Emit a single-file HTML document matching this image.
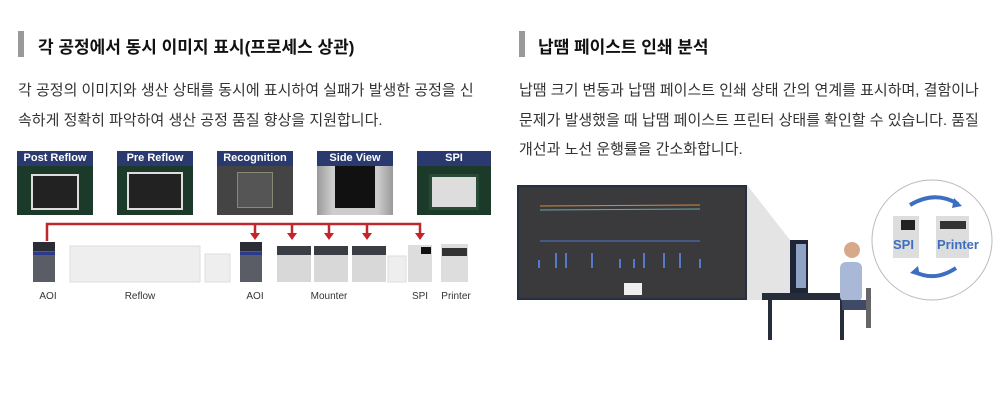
<!DOCTYPE html>
<html><head><meta charset="utf-8"><style>
body{margin:0;width:1000px;height:414px;background:#fff;position:relative;overflow:hidden;font-family:"Liberation Sans","Noto Sans CJK KR",sans-serif;color:#333}
.a{position:absolute}
.bar{width:6px;height:26px;background:#999;top:31px}
h2{position:absolute;margin:0;font-size:17px;font-weight:bold;color:#111;top:33px;white-space:nowrap}
p{position:absolute;margin:0;font-size:15px;line-height:29.5px;color:#333;top:76px;white-space:nowrap}
.th{position:absolute;top:151px;width:76px;height:64px;overflow:hidden}
.th .hd{height:15px;background:#2b3a6e;color:#fff;font-size:11px;font-weight:bold;text-align:center;line-height:15px}
.th .bd{height:49px;overflow:hidden}
.lb{position:absolute;top:291px;font-size:10px;color:#333;transform:translateX(-50%)}
</style></head><body>
<div class="a bar" style="left:18px"></div>
<h2 style="left:38px">각 공정에서 동시 이미지 표시(프로세스 상관)</h2>
<div class="a bar" style="left:519px"></div>
<h2 style="left:538px">납땜 페이스트 인쇄 분석</h2>
<p style="left:18px">각 공정의 이미지와 생산 상태를 동시에 표시하여 실패가 발생한 공정을 신<br>속하게 정확히 파악하여 생산 공정 품질 향상을 지원합니다.</p>
<p style="left:519px">납땜 크기 변동과 납땜 페이스트 인쇄 상태 간의 연계를 표시하며, 결함이나<br>문제가 발생했을 때 납땜 페이스트 프린터 상태를 확인할 수 있습니다. 품질<br>개선과 노선 운행률을 간소화합니다.</p>

<div class="th" style="left:17px"><div class="hd">Post Reflow</div><div class="bd" style="background:#1c3a2a"><div style="margin:8px 14px;height:32px;background:#222;border:2px solid #ddd"></div></div></div>
<div class="th" style="left:117px"><div class="hd">Pre Reflow</div><div class="bd" style="background:#1c3a2a"><div style="margin:6px 10px;height:34px;background:#222;border:2px solid #ddd"></div></div></div>
<div class="th" style="left:217px"><div class="hd">Recognition</div><div class="bd" style="background:#444"><div style="margin:6px 20px;height:34px;background:#555;border:1px solid #887"></div></div></div>
<div class="th" style="left:317px"><div class="hd">Side View</div><div class="bd" style="background:linear-gradient(90deg,#999,#ccc 20%,#ccc 80%,#999)"><div style="margin:0 18px;height:42px;background:#111"></div></div></div>
<div class="th" style="left:417px;width:74px"><div class="hd">SPI</div><div class="bd" style="background:#1c3a2a"><div style="margin:8px 12px;height:30px;background:#ddd;border:3px solid #2a4a38"></div></div></div>

<svg class="a" style="left:0;top:0" width="1000" height="414">
<g stroke="#c0262b" stroke-width="2.5" fill="none"><path d="M47 241V224H420V234"/><path d="M255 224V234M292 224V234M329 224V234M367 224V234"/></g>
<g fill="#c0262b"><path d="M250 233h10l-5 7zM287 233h10l-5 7zM324 233h10l-5 7zM362 233h10l-5 7zM415 233h10l-5 7z"/></g>
<rect x="70" y="246" width="130" height="36" fill="#eee" stroke="#ddd"/>
<rect x="205" y="254" width="25" height="28" fill="#eee" stroke="#ddd"/>
<rect x="33" y="242" width="22" height="40" fill="#5a5d66"/><rect x="33" y="242" width="22" height="9" fill="#2a2d33"/><rect x="33" y="252" width="22" height="3" fill="#2b3a8a"/>
<rect x="240" y="242" width="22" height="40" fill="#5a5d66"/><rect x="240" y="242" width="22" height="9" fill="#2a2d33"/><rect x="240" y="252" width="22" height="3" fill="#2b3a8a"/>
<g fill="#d8d8d8"><rect x="277" y="246" width="34" height="36"/><rect x="314" y="246" width="34" height="36"/><rect x="352" y="246" width="34" height="36"/></g>
<g fill="#3a3d44"><rect x="277" y="246" width="34" height="9"/><rect x="314" y="246" width="34" height="9"/><rect x="352" y="246" width="34" height="9"/></g>
<rect x="388" y="256" width="18" height="26" fill="#eee" stroke="#ddd"/>
<rect x="408" y="245" width="24" height="37" fill="#ddd"/><rect x="421" y="247" width="10" height="7" fill="#111"/>
<rect x="441" y="244" width="27" height="38" fill="#ddd"/><rect x="442" y="248" width="25" height="8" fill="#333"/>
<polygon points="747,185 790,240 790,300 747,300" fill="#e4e4e4"/>
<rect x="518" y="186" width="228" height="113" fill="#3a3a3c" stroke="#263040" stroke-width="2"/>
<polyline points="540,206 700,205" stroke="#d8883a" fill="none"/><polyline points="540,210 700,209" stroke="#6aa" fill="none"/>
<polyline points="540,241 700,241" stroke="#5577cc" fill="none"/>
<g stroke="#5577cc" stroke-width="2"><path d="M539 260V268M556 253V268M566 253V268M592 253V268M620 259V268M634 259V268M644 253V268M664 253V268M680 253V268M700 259V268"/></g>
<rect x="624" y="283" width="18" height="12" fill="#eee"/>
<rect x="790" y="240" width="18" height="55" fill="#1e2535"/><rect x="796" y="244" width="10" height="44" fill="#8fa3c4"/>
<rect x="762" y="293" width="88" height="7" fill="#262d3a"/><rect x="768" y="300" width="4" height="40" fill="#262d3a"/><rect x="840" y="300" width="4" height="40" fill="#262d3a"/>
<rect x="840" y="262" width="22" height="40" rx="6" fill="#a8b8d6"/><circle cx="852" cy="250" r="8" fill="#d7a98a"/>
<rect x="842" y="300" width="28" height="10" fill="#3e4a66"/><rect x="866" y="288" width="5" height="40" fill="#666"/>
<circle cx="932" cy="240" r="60" fill="#fff" stroke="#bbb"/>
<rect x="893" y="216" width="26" height="42" fill="#ddd"/><rect x="901" y="220" width="14" height="10" fill="#222"/>
<rect x="936" y="216" width="33" height="42" fill="#ddd"/><rect x="940" y="221" width="26" height="8" fill="#333"/>
<path d="M910 205Q935 190 958 204" stroke="#3d6fc0" stroke-width="4" fill="none"/><path d="M954 198l8 8-10 2z" fill="#3d6fc0"/>
<path d="M956 268Q935 282 915 272" stroke="#3d6fc0" stroke-width="4" fill="none"/><path d="M918 266l-8 7 10 3z" fill="#3d6fc0"/>
<text x="893" y="249" font-family="Liberation Sans" font-weight="bold" font-size="13" fill="#3d6fc0">SPI</text>
<text x="937" y="249" font-family="Liberation Sans" font-weight="bold" font-size="13" fill="#3d6fc0">Printer</text>
</svg>
<div class="lb" style="left:48px">AOI</div><div class="lb" style="left:140px">Reflow</div><div class="lb" style="left:255px">AOI</div><div class="lb" style="left:329px">Mounter</div><div class="lb" style="left:420px">SPI</div><div class="lb" style="left:456px">Printer</div>
</body></html>
